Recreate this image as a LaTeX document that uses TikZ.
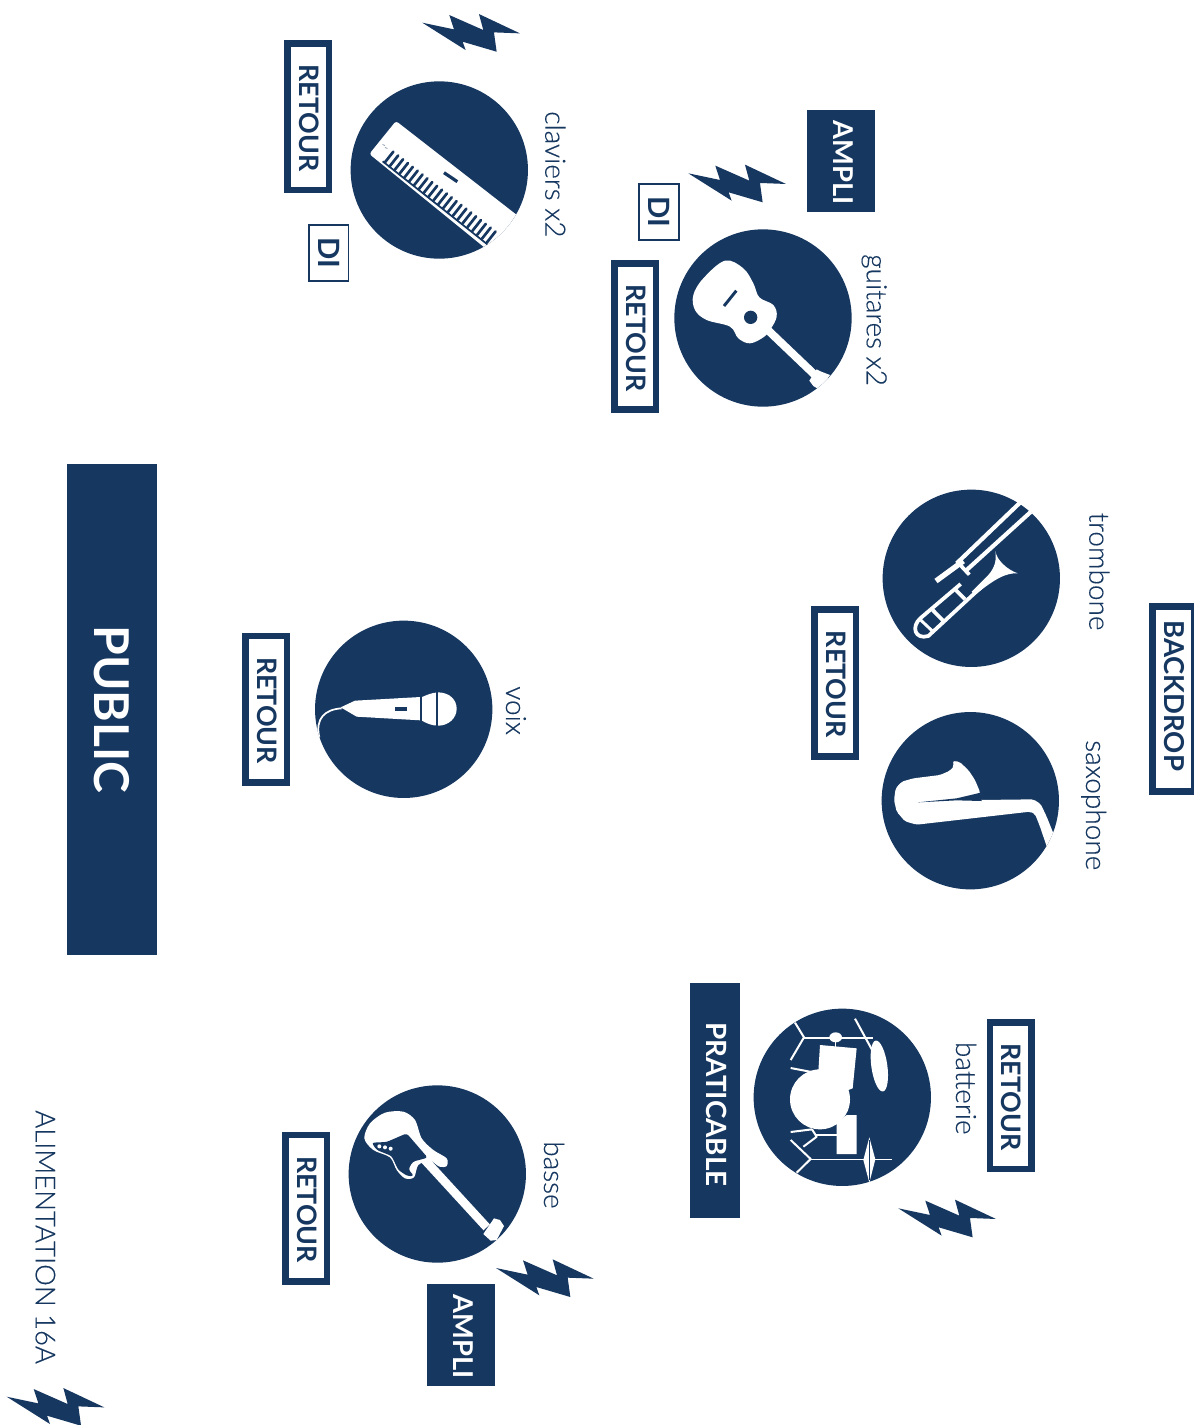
\documentclass[tikz,border=0pt]{standalone}
\usepackage{fontspec}
\newfontfamily\lbl[RawFeature={embolden=0.3}]{Lato Light}
\newfontfamily\hvy{Lato Bold}
\definecolor{navy}{HTML}{163760}
\tikzset{
  zoomed/.style 2 args={shift={(#1,#2)},x=.25pt,y=-.25pt},
  disc/.style={circle,fill=navy,draw=none,minimum size=133pt,inner sep=0pt},
  wline/.style={draw=white,line cap=butt,line join=round},
  dline/.style={draw=navy,line cap=butt},
  retourbox/.style={draw=navy,line width=5pt,fill=white,rotate=-90,inner sep=0pt,text=navy,text depth=1.5pt,font=\hvy\fontsize{20.1}{20}\selectfont},
  dibox/.style={draw=navy,line width=1.3pt,fill=white,rotate=-90,inner sep=0pt,text=navy,minimum width=42pt,minimum height=29.5pt,font=\hvy\fontsize{22}{22}\selectfont},
  solidbox/.style={fill=navy,rotate=-90,inner sep=0pt,text=white,text depth=3pt,font=\hvy\fontsize{20.5}{20}\selectfont},
  caption/.style={rotate=-90,anchor=base west,inner sep=0pt,text=navy,font=\lbl\fontsize{21}{20}\selectfont},
  lightning/.pic={\fill[navy,x=.25pt,y=-.25pt] (0,0)--(95,20)--(81,-23)--(183,22)--(170,-26)--(293,32)--(215,29)--(223,87)--(121,57)--(130,82)--cycle;}
}
\begin{document}
\begin{tikzpicture}[x=.75pt,y=-.75pt]
\useasboundingbox (0,0) rectangle (1193,1425);

% discs
\node[disc] (keys) at (439.3,170) {};
\node[disc] (guitar) at (763,318) {};
\node[disc] (tromb) at (971.3,578.3) {};
\node[disc] (sax) at (970.3,800.7) {};
\node[disc] (drums) at (842.3,1097.3) {};
\node[disc] (bass) at (437.3,1174) {};
\node[disc] (mic) at (403.7,709.3) {};

% keyboard
\begin{scope}[zoomed={270}{0}]
\clip (508,510) circle[radius=266];
\fill[white,rounded corners=2pt] (378,363)--(770,668)--(665,760)--(298,462)--cycle;
\draw[dline,line width=1.3pt] (338,484)--(652,733);
\foreach \i in {0,...,21}{
  \draw[navy,line width=2pt,line cap=round] ({344+14.6*\i},{488+11.4*\i})--++(26,-33);
}
\draw[navy,line width=2.4pt] (522,518)--(562,545);
\draw[navy,line width=.3pt] (338,434)--(345,436) (345,443)--(352,445);
\end{scope}

% guitar
\begin{scope}[zoomed={600}{100}]
\clip (489,654) circle[radius=266];
\draw[wline,line width=6pt] (495,682)--(650,830);
\fill[white] (628,842)--(650,808)--(664,815)--(690,825)--(660,870)--(640,858)--cycle;
\fill[white] plot[smooth cycle,tension=.6] coordinates {(375,482) (430,505) (460,550) (478,592) (520,615) (530,650) (510,690) (490,712) (450,730) (415,715) (390,680) (320,660) (285,630) (280,585) (310,535)};
\fill[navy] (452,652) circle[radius=20];
\draw[dline,line width=2.2pt] (372,618)--(409,572);
\end{scope}

% trombone
\begin{scope}[zoomed={800}{480}]
\clip (514,295) circle[radius=268];
\draw[wline,line width=3.1pt] (660,68)--(470,250);
\draw[wline,line width=3.1pt] (692,96)--(500,270);
\draw[wline,line width=4pt] (490,243)--(408,303);
\draw[wline,line width=2.8pt] (478,252)--(508,284);
\draw[wline,line width=2.8pt] (482,312)--(362,414) .. controls (332,440) and (345,480) .. (385,468)--(545,320);
\draw[wline,line width=2.8pt] (462,325)--(495,358);
\draw[wline,line width=2.8pt] (398,390)--(432,425);
\draw[wline,line width=2.2pt] (362,420)--(396,452);
\fill[white] (586,213) .. controls (590,240) and (620,268) .. (653,280) .. controls (620,278) and (585,295) .. (525,345)--(515,335)--(565,285) .. controls (585,262) and (590,240) .. (586,213)--cycle;
\end{scope}

% saxophone
\begin{scope}[zoomed={800}{480}]
\clip (511,962) circle[radius=266];
\fill[white,rounded corners=1.5pt] (458,843)--(478,845)--(505,870)--(525,900)--(540,936)--(540,960)--(700,958)--(722,972)--(740,1010)--(762,1065)--(742,1105)--(720,1040)--(705,1002)--(690,995)--(350,1034)--(315,1024)--(290,995)--(282,960)--(287,925)--(305,905)--(340,895)--(420,885)--(450,872)--(462,858)--cycle;
\fill[navy] (354,967)--(470,955)--(525,942)--(541,938)--(545,963)--(470,961)--cycle;
\end{scope}

% drums
\begin{scope}[zoomed={680}{980}]
\clip (487,352) circle[radius=266];
\draw[wline,line width=1.5pt] (345,128)--(372,172)--(332,240);
\draw[wline,line width=1.5pt] (372,175)--(580,175);
\fill[white] (467,172) ellipse[x radius=19,y radius=15];
\draw[wline,line width=1pt] (467,180)--(467,200);
\draw[wline,line width=1.5pt] (525,116)--(584,224);
\fill[white,rotate around={8:(598,258)}] (598,258) ellipse[x radius=24,y radius=77];
\fill[white] (420,195)--(530,205)--(518,325)--(505,330)--(415,275)--cycle;
\fill[white] (420,358) circle[radius=90];
\fill[white] (500,405)--(530,405)--(530,522)--(470,522)--(470,430)--cycle;
\draw[wline,line width=1.5pt] (332,264)--(400,277);
\draw[wline,line width=1.5pt] (332,456)--(396,448);
\draw[wline,line width=1.5pt] (396,448)--(410,470)--(370,500);
\draw[wline,line width=1pt] (405,465)--(470,465);
\draw[wline,line width=1.5pt] (332,480)--(392,537)--(350,578);
\draw[wline,line width=1pt] (392,538)--(636,538);
\fill[white] (568,472)--(586,538)--(568,608)--(550,540)--cycle;
\draw[dline,line width=.5pt] (568,480)--(568,600);
\end{scope}

% bass
\begin{scope}[zoomed={270}{1070}]
\clip (502,312) circle[radius=266];
\draw[wline,line width=6.5pt] (460,265)--(650,472);
\fill[white] (640,492)--(672,445)--(690,450)--(702,468)--(680,510)--(662,512)--cycle;
\fill[white] plot[smooth cycle,tension=.5] coordinates {(283,205) (300,160) (345,128) (400,125) (435,150) (455,205) (490,240) (530,265) (530,288) (508,290) (480,272) (445,285) (432,322) (405,325) (380,300) (360,262) (310,240)};
\fill[navy,rounded corners=2pt] (305,218)--(350,216)--(410,190)--(473,263)--(428,275)--(415,298)--(432,318)--(412,318)--(385,300)--(365,258)--(320,240)--cycle;
\fill[white] (328,229) circle[radius=6] (345,232) circle[radius=6] (362,236) circle[radius=6];
\end{scope}

% microphone
\begin{scope}[zoomed={230}{610}]
\clip (521,298) circle[radius=266];
\draw[wline,line width=1.3pt] (335,295) .. controls (285,298) and (255,325) .. (268,382);
\fill[white] (332,292)--(375,272)--(572,261)--(572,331)--(380,320)--cycle;
\fill[white] (574,262) .. controls (590,255) and (605,248) .. (625,247) .. controls (660,248) and (680,270) .. (680,296) .. controls (680,325) and (655,347) .. (625,347) .. controls (605,347) and (590,340) .. (574,331)--cycle;
\draw[dline,line width=.8pt] (621,246)--(621,348);
\draw[dline,line width=.8pt] (573,260)--(573,332);
\draw[dline,line width=2.3pt] (495,297)--(531,297);
\end{scope}

% bolts
\pic at (422.3,22.7) {lightning};
\pic at (688.3,173.3) {lightning};
\pic at (898.3,1208.3) {lightning};
\pic at (496,1268) {lightning};
\pic at (6.7,1396.7) {lightning};

% boxes
\node[retourbox,minimum width=109.8pt,minimum height=31pt] (r1) at (308.3,116.8) {\hspace*{2pt}RETOUR};
\node[retourbox,minimum width=109.8pt,minimum height=31pt] (r2) at (635.2,336.5) {\hspace*{2pt}RETOUR};
\node[retourbox,minimum width=109.8pt,minimum height=31pt] (r3) at (835.2,683) {\hspace*{2pt}RETOUR};
\node[retourbox,minimum width=109.8pt,minimum height=31pt] (r4) at (1010.5,1095.7) {\hspace*{2pt}RETOUR};
\node[retourbox,minimum width=109.8pt,minimum height=31pt] (r5) at (306.2,1208.3) {\hspace*{2pt}RETOUR};
\node[retourbox,minimum width=109.8pt,minimum height=31pt] (r6) at (266.2,709.3) {\hspace*{2pt}RETOUR};
\node[retourbox,minimum width=139pt,minimum height=31pt,font=\hvy\fontsize{20.6}{20}\selectfont] (bd) at (1173.2,699) {BACKDROP\hspace*{5pt}};
\node[dibox] (di1) at (328.8,252.8) {DI};
\node[dibox] (di2) at (659,211.7) {DI};
\node[solidbox,minimum width=76.5pt,minimum height=51pt] (a1) at (841,161) {\hspace*{3pt}AMPLI};
\node[solidbox,minimum width=76.5pt,minimum height=51pt] (a2) at (461,1335) {\hspace*{3pt}AMPLI};
\node[solidbox,minimum width=176.25pt,minimum height=37.5pt,font=\hvy\fontsize{20.9}{20}\selectfont] (prat) at (715,1100.5) {\hspace*{6pt}PRATICABLE};
\node[solidbox,minimum width=368.25pt,minimum height=67.5pt,text depth=0pt,font=\hvy\fontsize{36}{36}\selectfont] (pub) at (112,709.5) {PUBLIC};

% captions
\node[caption] (c1) at (545.3,111) {claviers x2};
\node[caption] (c2) at (866.7,254) {guitares x2};
\node[caption] (c3) at (1089.3,512.3) {trombone};
\node[caption] (c4) at (1086,740) {saxophone};
\node[caption] (c5) at (956,1041.7) {batterie};
\node[caption] (c6) at (544,1141) {basse};
\node[caption] (c7) at (506,686) {voix};
\node[caption,font=\lbl\fontsize{20.6}{20}\selectfont] (c8) at (35.7,1110) {ALIMENTATION 16A};
\end{tikzpicture}
\end{document}
